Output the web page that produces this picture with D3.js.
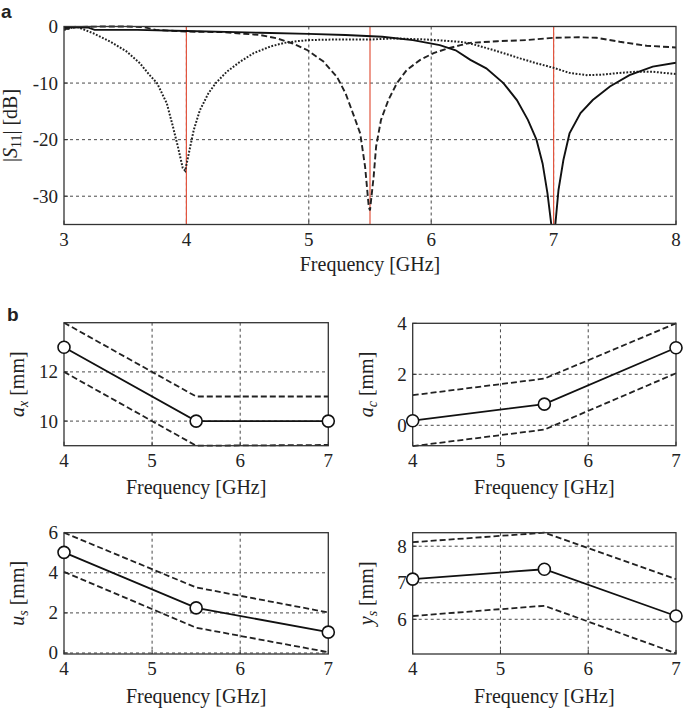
<!DOCTYPE html>
<html><head><meta charset="utf-8">
<script src="https://cdn.jsdelivr.net/npm/d3@7"></script>
<style>
body{margin:0;background:#fff;}
svg{display:block;}
text{font-family:"Liberation Serif","Times New Roman",serif;fill:#222;}
</style></head>
<body><svg id="c" width="685" height="708"></svg>
<script>
// ---------- Panel a: |S11| curves ----------
const dottedF = [3.0,3.05,3.1,3.24,3.38,3.51,3.62,3.70,3.76,3.84,3.89,3.93,3.97,3.99,4.02,4.06,4.11,4.18,4.24,4.33,4.44,4.55,4.69,4.80,4.90,5.01,5.2,5.5,5.69,5.96,6.1,6.23,6.32,6.45,6.59,6.72,6.86,7.0,7.13,7.27,7.40,7.54,7.67,7.81,7.9,8.0];
const dottedDB = [-0.6,-0.3,0,-1.2,-2.7,-4.4,-6.5,-8.6,-10.0,-13.6,-17.7,-21.2,-25.0,-25.5,-22.4,-18.3,-14.8,-11.8,-10.0,-8.0,-6.2,-4.7,-3.5,-2.9,-2.6,-2.4,-2.3,-2.3,-2.1,-2.3,-2.5,-2.7,-3.0,-3.8,-4.7,-5.6,-6.5,-7.3,-8.2,-8.6,-8.5,-8.2,-8.0,-8.0,-8.2,-8.4];
const dashedF = [3.0,3.1,3.3,3.5,3.65,3.75,4.0,4.3,4.6,4.74,4.87,4.99,5.12,5.23,5.30,5.36,5.42,5.46,5.49,5.50,5.53,5.55,5.59,5.65,5.72,5.80,5.91,6.02,6.13,6.24,6.32,6.54,6.78,7.0,7.2,7.35,7.54,7.76,8.0];
const dashedDB = [-0.5,-0.1,0,0,-0.1,-0.6,-0.9,-1.0,-1.5,-2.1,-3.0,-4.2,-6.2,-8.9,-11.8,-15.3,-18.9,-24.8,-31.9,-32.5,-26.5,-21.2,-16.5,-13.0,-10.0,-7.7,-5.9,-4.7,-3.9,-3.3,-2.9,-2.6,-2.4,-2.0,-1.9,-2.0,-2.7,-3.4,-3.7];
const solidF = [3.0,3.2,3.25,3.6,4.0,4.4,4.6,5.0,5.3,5.6,5.85,6.07,6.2,6.32,6.45,6.59,6.70,6.79,6.86,6.91,6.95,6.98,7.0,7.01,7.04,7.08,7.13,7.22,7.32,7.46,7.62,7.81,8.0];
const solidDB = [-0.15,-0.2,-0.6,-0.6,-0.8,-1.0,-1.1,-1.3,-1.5,-1.8,-2.4,-3.3,-4.2,-5.9,-7.4,-10.0,-13.0,-16.5,-20.0,-24.2,-29.5,-34.8,-38,-36,-28.9,-23.6,-18.9,-15.3,-13.0,-10.6,-8.6,-7.1,-6.4];
const markerFreqs = [4, 5.5, 7];
const topXTicks = [3,4,5,6,7,8];
const topYTicks = [0,-10,-20,-30];

// ---------- Panel b: parameters ----------
const bFreq = [4, 5.5, 7];
const axMid = [13, 10, 10], axUp = [14, 11, 11.0], axLo = [12, 9, 9.03];
const acMid = [0.18, 0.83, 3.04], acUp = [1.18, 1.83, 4.0], acLo = [-0.82, -0.17, 2.04];
const usMid = [5.02, 2.25, 1.04], usUp = [6.0, 3.27, 2.02], usLo = [4.05, 1.26, 0.04];
const ysMid = [7.1, 7.37, 6.09], ysUp = [8.11, 8.37, 7.1], ysLo = [6.09, 6.37, 5.07];
const bXTicks = [4,5,6,7];

const svg = d3.select("#c");
const gridCol = "#333";

function frame(g, x, y, xTicks, yTicks, xGrid, yGrid, left, right, top, bottom, fs, xLabOff) {
  g.selectAll(null).data(xGrid).enter().append("line")
    .attr("x1", d=>x(d)).attr("x2", d=>x(d)).attr("y1", top).attr("y2", bottom)
    .attr("stroke", gridCol).attr("stroke-width", 0.9).attr("stroke-dasharray","3,3");
  g.selectAll(null).data(yGrid).enter().append("line")
    .attr("x1", left).attr("x2", right).attr("y1", d=>y(d)).attr("y2", d=>y(d))
    .attr("stroke", gridCol).attr("stroke-width", 0.9).attr("stroke-dasharray","3,3");
  g.selectAll(null).data(xTicks).enter().append("line")
    .attr("x1", d=>x(d)).attr("x2", d=>x(d)).attr("y1", bottom).attr("y2", bottom-4)
    .attr("stroke", "#333").attr("stroke-width", 1);
  g.selectAll(null).data(yTicks).enter().append("line")
    .attr("x1", left).attr("x2", left+4).attr("y1", d=>y(d)).attr("y2", d=>y(d))
    .attr("stroke", "#333").attr("stroke-width", 1);
  g.selectAll(null).data(xTicks).enter().append("text")
    .attr("x", d=>x(d)).attr("y", bottom + xLabOff).attr("text-anchor","middle")
    .attr("font-size", fs).text(d=>d);
  g.selectAll(null).data(yTicks).enter().append("text")
    .attr("x", left-6).attr("y", d=>y(d)+fs*0.34).attr("text-anchor","end")
    .attr("font-size", fs).text(d=>d);
}
function box(g, left, right, top, bottom) {
  g.append("rect").attr("x", left).attr("y", top).attr("width", right-left).attr("height", bottom-top)
    .attr("fill","none").attr("stroke","#333").attr("stroke-width",1.3);
}

// ===== Panel a =====
{
  const L=64, R=676, T=26.5, B=224.5;
  const x = d3.scaleLinear().domain([3,8]).range([L,R]);
  const y = d3.scaleLinear().domain([-35,0]).range([B,T]);
  const g = svg.append("g");
  frame(g, x, y, topXTicks, topYTicks, [4,5,6,7], [-10,-20,-30], L, R, T, B, 19, 21);
  svg.append("clipPath").attr("id","clipA").append("rect")
    .attr("x",L).attr("y",T-3).attr("width",R-L).attr("height",B-T+3);
  const line = d3.line().x(d=>x(d[0])).y(d=>y(d[1]));
  const cg = g.append("g").attr("clip-path","url(#clipA)");
  cg.selectAll(null).data(markerFreqs).enter().append("line")
    .attr("x1",d=>x(d)).attr("x2",d=>x(d)).attr("y1",T).attr("y2",B)
    .attr("stroke","#e2553f").attr("stroke-width",1.2);
  cg.append("path").datum(d3.zip(dottedF, dottedDB)).attr("d", line)
    .attr("fill","none").attr("stroke","#222").attr("stroke-width",2).attr("stroke-dasharray","1.8,1.6");
  cg.append("path").datum(d3.zip(dashedF, dashedDB)).attr("d", line)
    .attr("fill","none").attr("stroke","#222").attr("stroke-width",1.9).attr("stroke-dasharray","6,3");
  cg.append("path").datum(d3.zip(solidF, solidDB)).attr("d", line)
    .attr("fill","none").attr("stroke","#111").attr("stroke-width",1.9);
  box(g, L, R, T, B);
  g.append("text").attr("x",(L+R)/2).attr("y",271).attr("text-anchor","middle").attr("font-size",20).text("Frequency [GHz]");
  const yl = g.append("text").attr("transform",`translate(17,${(T+B)/2}) rotate(-90)`).attr("text-anchor","middle").attr("font-size",20);
  yl.append("tspan").text("|");
  yl.append("tspan").attr("font-style","italic").text("S");
  yl.append("tspan").attr("font-size",14).attr("dy",4).text("11");
  yl.append("tspan").attr("dy",-4).text("| [dB]");
  svg.append("text").attr("x",1).attr("y",18)
    .attr("font-weight","bold").attr("font-size",19).style("font-family","'Liberation Sans',Arial,sans-serif").text("a");
}

// ===== Panel b =====
svg.append("text").attr("x",7).attr("y",321).style("font-family","'Liberation Sans',Arial,sans-serif")
  .attr("font-weight","bold").attr("font-size",19).text("b");

const panels = [
  {L:64, R:328.3, T:322.7, B:445.7, dom:[9,14], yt:[10,12], yg:[10,12], mid:axMid, up:axUp, lo:axLo, sym:"a", sub:"x", ylx:24, title:494},
  {L:412.7, R:676, T:323.3, B:445.7, dom:[-0.8,4], yt:[0,2,4], yg:[0,2], mid:acMid, up:acUp, lo:acLo, sym:"a", sub:"c", ylx:373, title:494},
  {L:64, R:328.3, T:532.7, B:654, dom:[-0.05,6], yt:[0,2,4,6], yg:[0,2,4], mid:usMid, up:usUp, lo:usLo, sym:"u", sub:"s", ylx:24, title:703},
  {L:412.7, R:676, T:532.7, B:654, dom:[5.05,8.37], yt:[6,7,8], yg:[6,7,8], mid:ysMid, up:ysUp, lo:ysLo, sym:"y", sub:"s", ylx:373, title:703}
];
panels.forEach(p=>{
  const x = d3.scaleLinear().domain([4,7]).range([p.L,p.R]);
  const y = d3.scaleLinear().domain(p.dom).range([p.B,p.T]);
  const g = svg.append("g");
  frame(g, x, y, bXTicks, p.yt, [5,6], p.yg, p.L, p.R, p.T, p.B, 19, 21);
  const line = d3.line().x(d=>x(d[0])).y(d=>y(d[1]));
  [p.up, p.lo].forEach(arr=>{
    g.append("path").datum(d3.zip(bFreq, arr)).attr("d", line)
      .attr("fill","none").attr("stroke","#222").attr("stroke-width",1.8).attr("stroke-dasharray","6,3");
  });
  box(g, p.L, p.R, p.T, p.B);
  g.append("path").datum(d3.zip(bFreq, p.mid)).attr("d", line)
    .attr("fill","none").attr("stroke","#111").attr("stroke-width",1.8);
  g.selectAll(null).data(d3.zip(bFreq, p.mid)).enter().append("circle")
    .attr("cx", d=>x(d[0])).attr("cy", d=>y(d[1])).attr("r", 6)
    .attr("fill","#fff").attr("stroke","#111").attr("stroke-width",1.6);
  g.append("text").attr("x",(p.L+p.R)/2).attr("y",p.title).attr("text-anchor","middle").attr("font-size",20).text("Frequency [GHz]");
  const yl = g.append("text").attr("transform",`translate(${p.ylx},${(p.T+p.B)/2}) rotate(-90)`).attr("text-anchor","middle").attr("font-size",20);
  yl.append("tspan").attr("font-style","italic").text(p.sym);
  yl.append("tspan").attr("font-style","italic").attr("font-size",14).attr("dy",4).text(p.sub);
  yl.append("tspan").attr("dy",-4).text(" [mm]");
});
</script>
</body></html>
